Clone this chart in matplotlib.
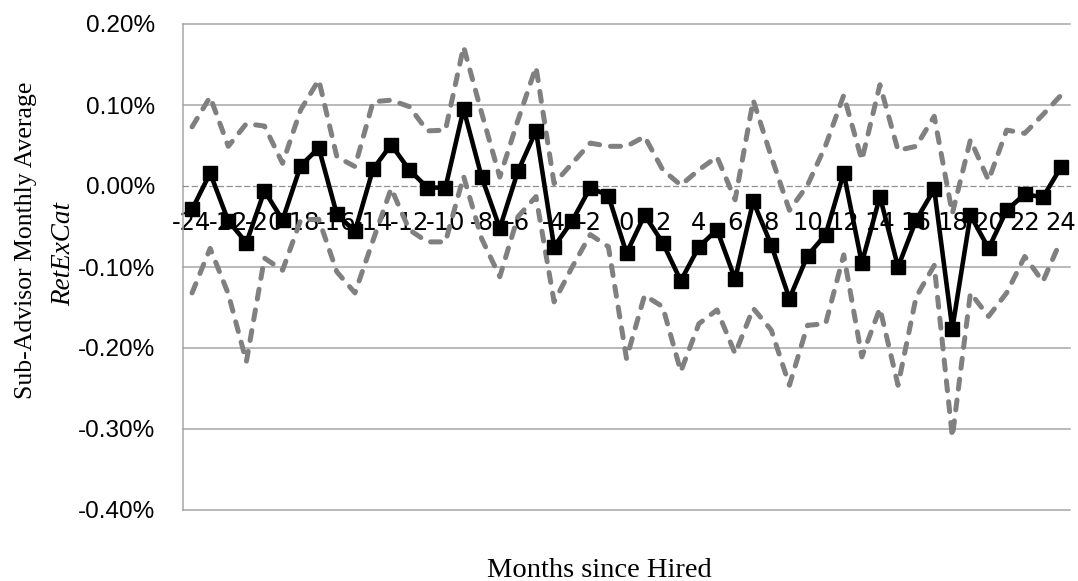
import matplotlib
matplotlib.use("Agg")
import matplotlib.pyplot as plt

# Months relative to the hiring date
months = list(range(-24, 25))

# Sub-advisor monthly average RetExCat (in percent)
mean_ret = [-0.029, 0.016, -0.043, -0.070, -0.006, -0.042, 0.025, 0.047, -0.035, -0.056,
            0.021, 0.051, 0.020, -0.002, -0.002, 0.095, 0.011, -0.052, 0.018, 0.068,
            -0.075, -0.043, -0.002, -0.012, -0.083, -0.036, -0.070, -0.117, -0.075, -0.054,
            -0.115, -0.019, -0.073, -0.139, -0.086, -0.060, 0.016, -0.095, -0.013, -0.100,
            -0.042, -0.004, -0.176, -0.036, -0.077, -0.030, -0.010, -0.014, 0.023]

# Upper and lower confidence bounds (in percent)
upper_band = [0.073, 0.110, 0.049, 0.077, 0.074, 0.028, 0.094, 0.131, 0.036, 0.024,
              0.104, 0.106, 0.098, 0.068, 0.069, 0.172, 0.090, 0.011, 0.081, 0.147,
              0.003, 0.028, 0.053, 0.049, 0.049, 0.061, 0.020, 0.001, 0.020, 0.036,
              -0.017, 0.106, 0.036, -0.030, 0.001, 0.050, 0.112, 0.032, 0.125, 0.044,
              0.049, 0.086, -0.034, 0.057, 0.007, 0.069, 0.065, 0.088, 0.112]

lower_band = [-0.132, -0.077, -0.133, -0.217, -0.089, -0.104, -0.042, -0.041, -0.106, -0.132,
              -0.067, -0.003, -0.054, -0.069, -0.069, 0.012, -0.065, -0.112, -0.038, -0.013,
              -0.143, -0.100, -0.060, -0.075, -0.213, -0.135, -0.149, -0.229, -0.170, -0.153,
              -0.207, -0.151, -0.178, -0.246, -0.172, -0.170, -0.085, -0.211, -0.151, -0.246,
              -0.137, -0.098, -0.310, -0.132, -0.161, -0.132, -0.087, -0.118, -0.067]

y_ticks = [0.20, 0.10, 0.00, -0.10, -0.20, -0.30, -0.40]
x_ticks = list(range(-24, 25, 2))
x_tick_labels = [str(m) for m in x_ticks]

W, H = 1078, 581
fig = plt.figure(figsize=(W / 100, H / 100), dpi=100)
ax = fig.add_axes([183 / W, 1 - 510 / H, (1070 - 183) / W, (510 - 24) / H])

tick_font = "Liberation Sans"
serif_font = "Liberation Serif"
grid_color = "#a6a6a6"

# Horizontal gridlines (the zero line is drawn by the axis itself)
for v in y_ticks:
    if v != 0:
        ax.axhline(v, color=grid_color, lw=1.1, zorder=0.5, clip_on=False)

band_style = dict(color="#808080", lw=3.6, linestyle=(0, (2.0, 2.2)),
                  dash_capstyle="round", solid_capstyle="round", zorder=3)
ax.plot(months, upper_band, **band_style)
ax.plot(months, lower_band, **band_style)
ax.plot(months, mean_ret, color="black", lw=3.3, marker="s", markersize=9.5,
        markerfacecolor="black", markeredgecolor="black", zorder=4)

ax.set_xlim(-24.5, 24.5)
ax.set_ylim(-0.40, 0.20)

ax.set_yticks(y_ticks)
ax.set_yticklabels([f"{v:.2f}%" for v in y_ticks])
ax.set_xticks(x_ticks)
ax.set_xticklabels(x_tick_labels)

ax.tick_params(axis="y", length=0, pad=20, labelsize=17.5)
ax.tick_params(axis="x", length=0, pad=18, labelsize=17.5)
for lab in ax.get_xticklabels() + ax.get_yticklabels():
    lab.set_fontfamily(tick_font)

ax.spines["top"].set_visible(False)
ax.spines["right"].set_visible(False)
ax.spines["left"].set_color(grid_color)
ax.spines["left"].set_linewidth(1.1)
ax.spines["bottom"].set_position(("data", 0))
ax.spines["bottom"].set_color("#909090")
ax.spines["bottom"].set_linewidth(0.9)
ax.spines["bottom"].set_linestyle((0, (4, 3)))

# Axis titles
fig.text(26 / W, 1 - 240 / H, "Sub-Advisor Monthly Average", rotation=90,
         ha="center", va="center", fontsize=18.5, family=serif_font)
fig.text(64 / W, 1 - 254 / H, "RetExCat", rotation=90, style="italic",
         ha="center", va="center", fontsize=19.5, family=serif_font)
fig.text(599 / W, 1 - 577 / H, "Months since Hired", ha="center", va="baseline",
         fontsize=20.5, family=serif_font)

fig.savefig("out.png", dpi=100)
